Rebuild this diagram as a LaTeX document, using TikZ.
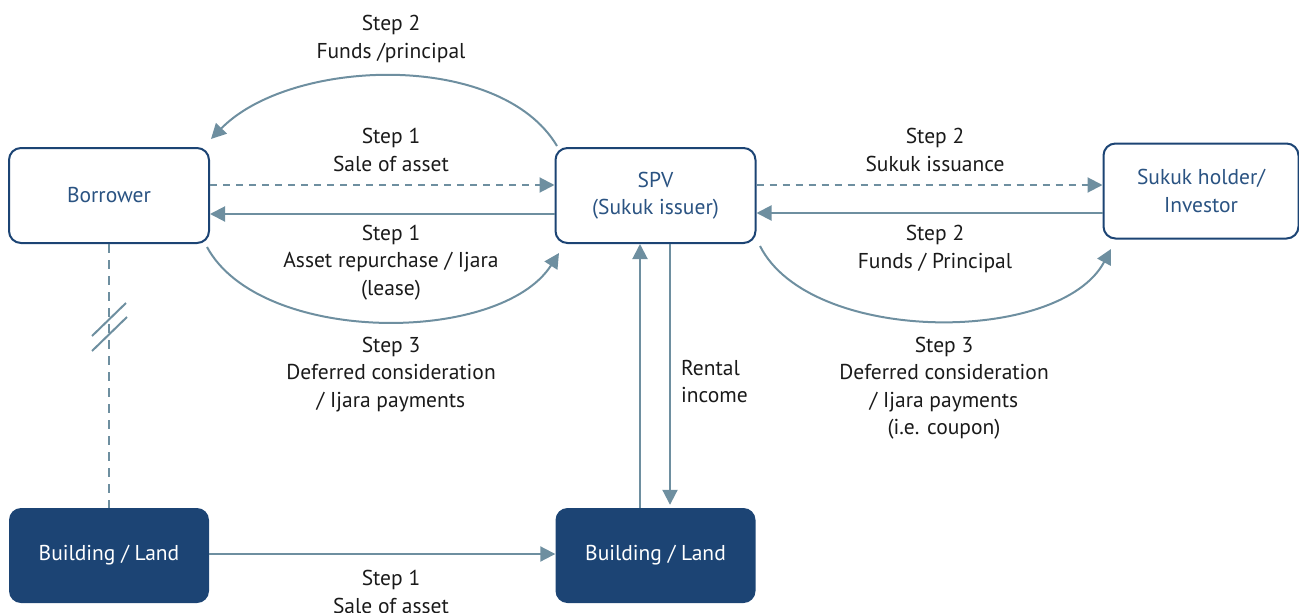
\documentclass[tikz,border=0pt]{standalone}
\usepackage{fontspec}
\setmainfont{PT Sans}
\usetikzlibrary{arrows.meta,calc}
\definecolor{boxblue}{HTML}{1C4474}
\definecolor{boxtext}{HTML}{2A5382}
\definecolor{flow}{HTML}{6E8FA0}
\definecolor{labeltext}{HTML}{1A1A1A}
\begin{document}
\begin{tikzpicture}[x=1pt,y=-1pt,
  every node/.style={font=\fontsize{21.5}{27.5}\selectfont},
  party/.style={draw=boxblue,line width=2pt,rounded corners=12pt,fill=white,
    minimum width=200pt,minimum height=95pt,align=center,text=boxtext,inner sep=0pt},
  asset/.style={fill=boxblue,rounded corners=12pt,minimum width=200pt,
    minimum height=95pt,align=center,text=white,inner sep=0pt},
  lbl/.style={align=center,text=labeltext,inner sep=0pt},
  flowline/.style={draw=flow,line width=2pt,-{Triangle[length=15pt,width=15pt]}},
  dashflow/.style={flowline,dash pattern=on 7pt off 6pt},
  link/.style={draw=flow,line width=2pt,dash pattern=on 9pt off 7pt},
  cut/.style={draw=flow,line width=2pt}]
\useasboundingbox (0,0) rectangle (1299,613);

% parties
\node[party] (borrower) at (109,195.5) {Borrower};
\node[party] (spv) at (655.5,195.5) {SPV\\(Sukuk issuer)};
\node[party,minimum width=195pt] (holder) at (1201,191) {Sukuk holder/\\Investor};

% underlying assets
\node[asset] (landA) at (109,555.5) {Building / Land};
\node[asset] (landB) at (655.5,555.5) {Building / Land};

% connector end points
\coordinate (topS) at (557,146);
\coordinate (topE) at (211,139);
\coordinate (botS) at (207,247);
\coordinate (botE) at (559,253);
\coordinate (rS) at (760,246);
\coordinate (rE) at (1111,249);
\coordinate (cutA1) at (92,336);
\coordinate (cutA2) at (126,303);
\coordinate (cutB1) at (92,351);
\coordinate (cutB2) at (127,317);

% borrower <-> SPV
\draw[flowline] (topS) .. controls (500,50) and (290,58) .. (topE);
\draw[dashflow] (borrower.east |- 0,185) -- (spv.west |- 0,185);
\draw[flowline] (spv.west |- 0,214) -- (borrower.east |- 0,214);
\draw[flowline] (botS) .. controls (260,345) and (500,345) .. (botE);

% SPV <-> investor
\draw[dashflow] (spv.east |- 0,185) -- (holder.west |- 0,185);
\draw[flowline] (holder.west |- 0,213) -- (spv.east |- 0,213);
\draw[flowline] (rS) .. controls (810,345) and (1060,345) .. (rE);

% rental flows
\draw[flowline] (landB.north -| 640,0) -- (spv.south -| 640,0);
\draw[flowline] (spv.south -| 670,0) -- ($(landB.north -| 670,0)+(0,-3)$);

% asset transfer
\draw[flowline] (landA.east |- 0,554) -- (landB.west |- 0,554);

% ownership link with break marks
\draw[link] (borrower.south) -- (landA.north);
\draw[cut] (cutA1) -- (cutA2);
\draw[cut] (cutB1) -- (cutB2);

% labels
\node[lbl] (l1) at (391,39) {Step 2\\Funds /principal};
\node[lbl] (l2) at (391,150) {Step 1\\Sale of asset};
\node[lbl] (l3) at (391,262.5) {Step 1\\Asset repurchase / Ijara\\(lease)};
\node[lbl] (l4) at (391,374.5) {Step 3\\Deferred consideration\\/ Ijara payments};
\node[lbl] (l5) at (935,150) {Step 2\\Sukuk issuance};
\node[lbl] (l6) at (935,249) {Step 2\\Funds / Principal};
\node[lbl] (l7) at (944,388) {Step 3\\Deferred consideration\\/ Ijara payments\\(i.e. coupon)};
\node[lbl,align=left,anchor=west] (l8) at (681,381.5) {Rental\\income};
\node[lbl] (l9) at (391,592) {Step 1\\Sale of asset};
\end{tikzpicture}
\end{document}
